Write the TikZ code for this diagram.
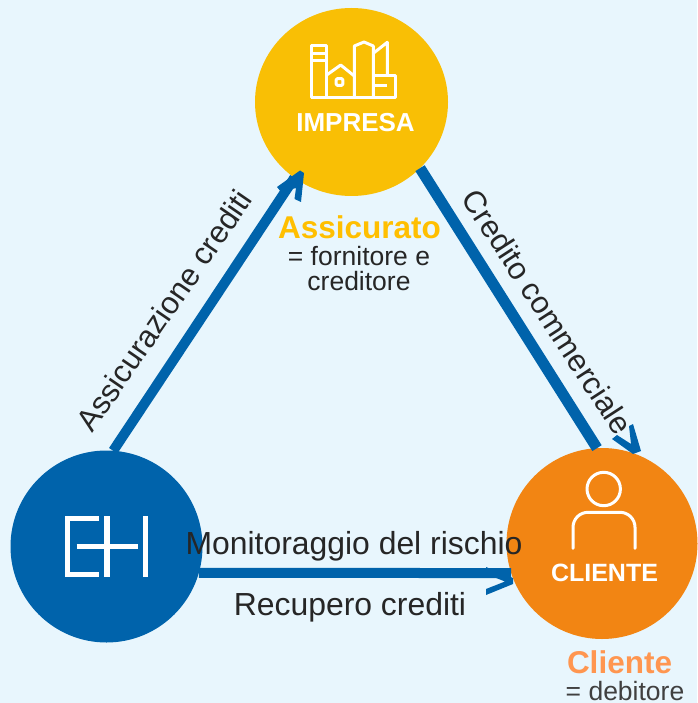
\documentclass[tikz,border=0pt]{standalone}
\usepackage{fontspec}
\usetikzlibrary{shapes.geometric}
\setmainfont{Liberation Sans}
\definecolor{bgc}{HTML}{E8F6FD}
\definecolor{yel}{HTML}{F9BF05}
\definecolor{blu}{HTML}{0063AB}
\definecolor{ora}{HTML}{F28513}
\definecolor{asst}{HTML}{FFBF00}
\definecolor{clit}{HTML}{FF9650}
\definecolor{ink}{HTML}{262626}
\definecolor{ink2}{HTML}{404040}
\tikzset{
  party/.style={circle,inner sep=0pt,outer sep=0pt,minimum size=#1},
  shaft/.style={draw=blu,line width=#1},
  headtip/.style={fill=blu,draw=none},
  lbl/.style={text=ink,inner sep=0pt,font=\fontsize{31.9}{36}\selectfont},
  slant/.style={text=ink,inner sep=0pt,font=\fontsize{31}{36}\selectfont},
  cap/.style={inner sep=0pt,anchor=base,text=white,font=\bfseries\fontsize{#1}{30}\selectfont},
  role/.style={inner sep=0pt,anchor=base,font=\bfseries\fontsize{31.5}{36}\selectfont},
  note/.style={inner sep=0pt,anchor=base,text=ink,font=\fontsize{26.5}{30}\selectfont},
  icon/.style={draw=white,line width=3pt,line join=round},
  logo/.style={draw=white,line width=#1}
}
\begin{document}
\begin{tikzpicture}[x=1pt,y=-1pt]
\useasboundingbox (0,0) rectangle (697,703);
\fill[bgc] (0,0) rectangle (697,703);
% parties
\node[ellipse,inner sep=0pt,outer sep=0pt,minimum width=193pt,minimum height=188pt,fill=yel] (impresa) at (351.5,102) {};
\node[party=192pt,fill=blu] (eh) at (106.5,546.5) {};
\node[party=191pt,fill=ora] (cliente) at (602,543.5) {};
% connectors
\draw[shaft=10pt] (eh.86) -- (impresa.233.3);
\draw[shaft=11pt] (impresa.-44.3) -- (cliente.93);
\draw[shaft=10pt] (eh.-16) -- (cliente.198);
% arrow heads
\fill[headtip] (300,170.5) -- (304,173) -- (301,202) -- (294.5,199) -- (296,188) -- (281,192) -- (277,187) -- cycle;
\fill[headtip] (633,424) -- (641,451) -- (633,454) -- (612,439) -- (617,435) -- (631,444) -- (629,426) -- cycle;
\fill[headtip] (486,567) -- (513,578) -- (513,584) -- (486,595) -- (486,589) -- (505,581.5) -- (486,574) -- cycle;
% impresa icon
\draw[icon] (311,45.7) rectangle (326.7,97.3);
\draw[icon] (311,53.3) -- (326.7,53.3) (311,60.7) -- (326.7,60.7);
\draw[icon] (311,97.3) -- (395,97.3) -- (395,76) -- (373.3,76);
\draw[icon] (326.7,75) -- (340.7,65) -- (354.3,76);
\draw[icon] (354.3,97.3) -- (354.3,46) -- (364,42) -- (373.3,46) -- (373.3,97.3);
\draw[icon] (373.3,53.3) -- (387.3,42.3) -- (387.3,76);
\draw[icon] (373.3,85.5) -- (387.3,85.5);
\draw[icon,rounded corners=1pt] (336.2,78.7) rectangle (342.8,85.3);
% cliente icon
\draw[icon] (603.7,489) circle[radius=16.7];
\draw[icon,line cap=round,rounded corners=15pt] (573,548.3) -- (573,512.3) -- (635,512.3) -- (635,548.3);
% logo
\draw[logo=5.5pt] (99,518.7) -- (67.7,518.7) -- (67.7,574.7) -- (99,574.7);
\draw[logo=5.5pt] (76.7,546.7) -- (137.7,546.7);
\draw[logo=5.5pt] (107,516) -- (107,576.7);
\draw[logo=5.5pt] (145.7,516) -- (145.7,576.7);
% labels
\node[cap=26] (timp) at (355.5,132) {IMPRESA};
\node[cap=25] (tcli) at (604.5,581) {CLIENTE};
\node[role,text=asst] (tass) at (359.5,238) {Assicurato};
\node[note] (n1) at (359,265) {= fornitore e};
\node[note] (n2) at (359,290) {creditore};
\node[role,text=clit] (tcl2) at (619.5,673) {Cliente};
\node[note,text=ink2] (n3) at (625,700) {= debitore};
\node[lbl] (mon) at (354,546) {Monitoraggio del rischio};
\node[lbl] (rec) at (350,607) {Recupero crediti};
\node[slant,rotate=55.5] (ass) at (164,310.5) {Assicurazione crediti};
\node[slant,rotate=-57] (cre) at (547.5,312) {Credito commerciale};
\end{tikzpicture}
\end{document}
